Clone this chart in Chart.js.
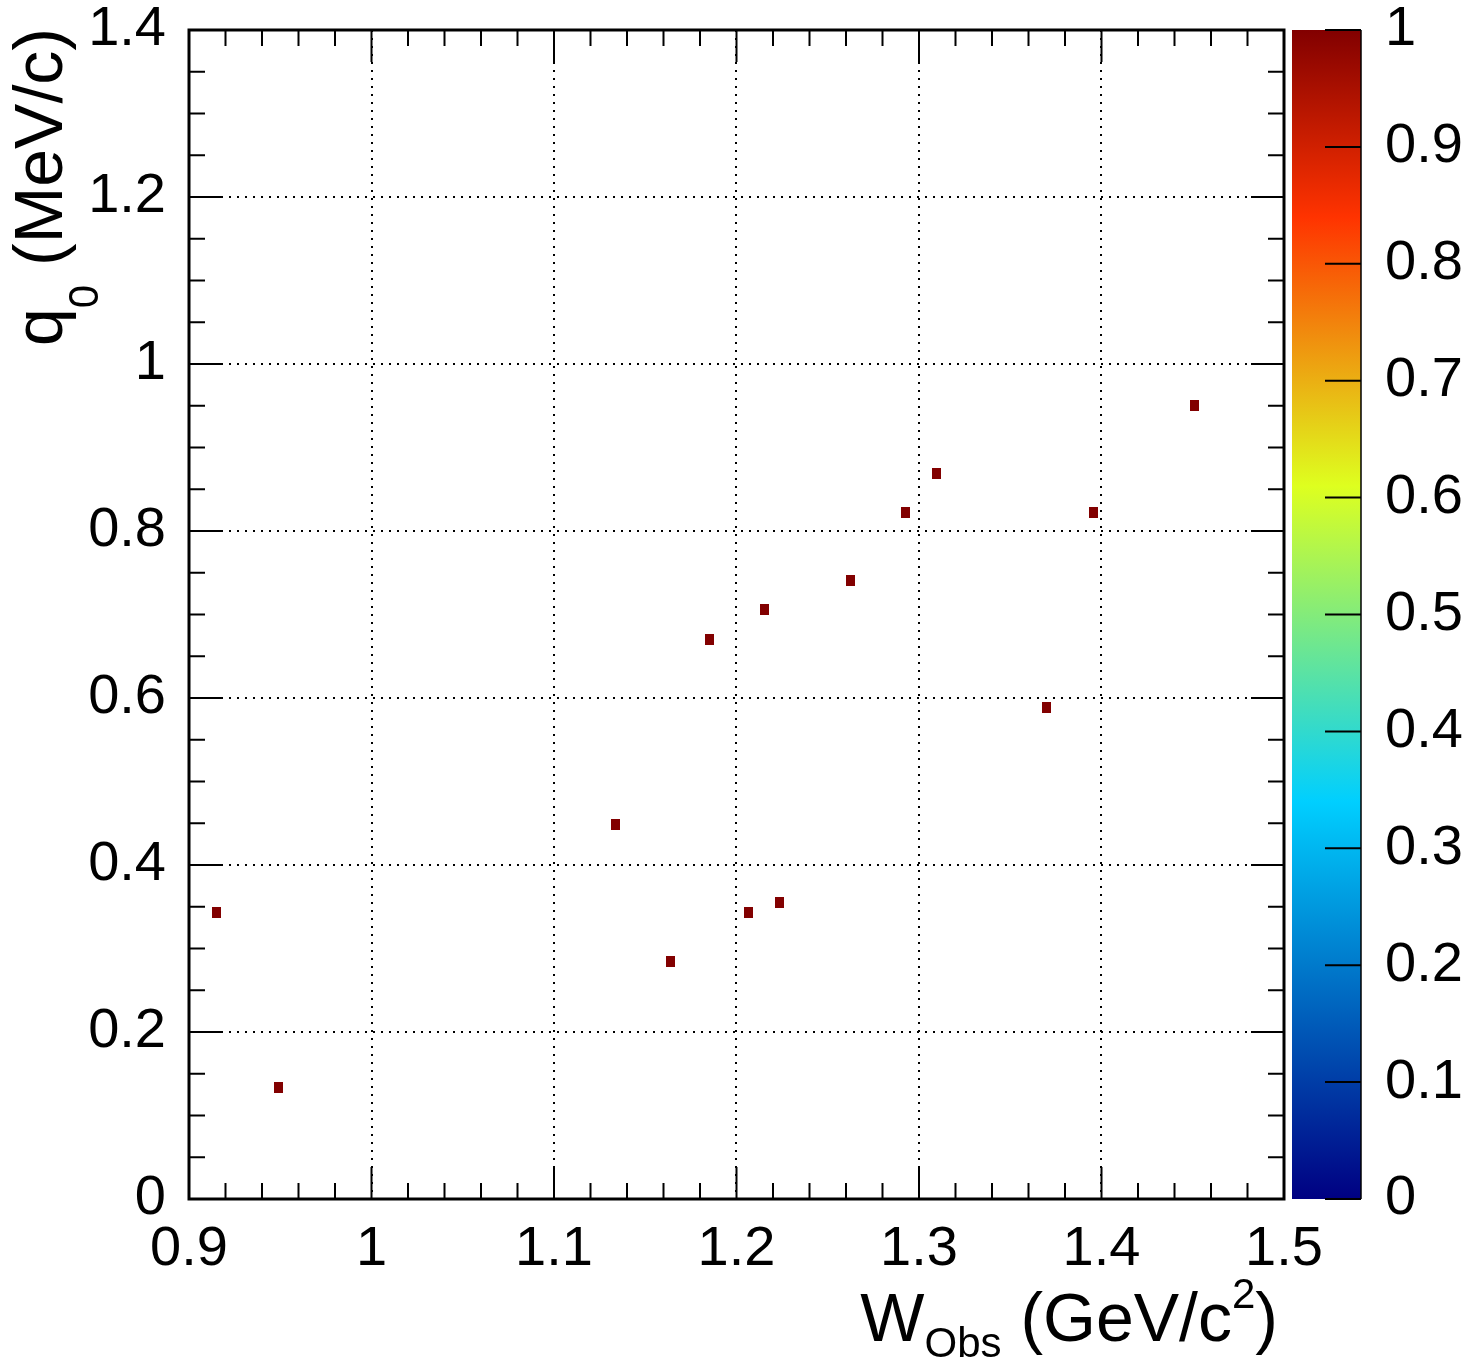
<!DOCTYPE html>
<html><head><meta charset="utf-8">
<script src="https://cdn.jsdelivr.net/npm/chart.js@4/dist/chart.umd.min.js"></script>
<style>html,body{margin:0;padding:0;background:#fff}canvas{display:block}</style>
</head><body>
<canvas id="c" width="1463" height="1363"></canvas>
<script>
// ---- data ----
const wObs = [0.9148, 0.9493, 1.1337, 1.1638, 1.1852, 1.2066, 1.2153, 1.2237, 1.2625, 1.2926, 1.3096, 1.3697, 1.3955, 1.4508];
const q0   = [0.3437, 0.1335, 0.4485, 0.2850, 0.6700, 0.3434, 0.7054, 0.3553, 0.7404, 0.8222, 0.8689, 0.5884, 0.8222, 0.9505];
const zVal = [1, 1, 1, 1, 1, 1, 1, 1, 1, 1, 1, 1, 1, 1];
const xTickLabels = ['0.9', '1', '1.1', '1.2', '1.3', '1.4', '1.5'];
const yTickLabels = ['0', '0.2', '0.4', '0.6', '0.8', '1', '1.2', '1.4'];
const zTickLabels = ['0', '0.1', '0.2', '0.3', '0.4', '0.5', '0.6', '0.7', '0.8', '0.9', '1'];
const paletteStops = [0.00, 0.34, 0.61, 0.84, 1.00];
const paletteRGB = [[0, 0, 130], [0, 207, 255], [222, 255, 31], [255, 51, 0], [130, 0, 0]];

// ---- helpers ----
function paletteColor(v) {
  v = Math.max(0, Math.min(1, v));
  for (let i = 0; i < paletteStops.length - 1; i++) {
    if (v <= paletteStops[i + 1]) {
      const t = (v - paletteStops[i]) / (paletteStops[i + 1] - paletteStops[i]);
      const a = paletteRGB[i], b = paletteRGB[i + 1];
      return 'rgb(' + a.map((c, k) => Math.round(c + (b[k] - c) * t)).join(',') + ')';
    }
  }
  return 'rgb(' + paletteRGB[paletteRGB.length - 1].join(',') + ')';
}
function binImage(color) {
  const cv = document.createElement('canvas');
  cv.width = 9; cv.height = 11;
  const g = cv.getContext('2d');
  g.fillStyle = color; g.fillRect(0, 0, 9, 11);
  return cv;
}
const FONT = "'Liberation Sans', Arial, Helvetica, sans-serif";
Chart.defaults.font.family = FONT;
Chart.defaults.color = '#000';

const points = wObs.map((x, i) => ({x: x, y: q0[i], z: zVal[i]}));
const pointImgs = zVal.map(z => binImage(paletteColor(z)));

function drawRich(ctx, parts, x, y, mainSize, subSize) {
  let total = 0;
  const widths = parts.map(p => {
    ctx.font = (p.small ? subSize : mainSize) + 'px ' + FONT;
    const w = ctx.measureText(p.t).width; total += w; return w;
  });
  let cx = x - total;
  ctx.textAlign = 'left'; ctx.textBaseline = 'alphabetic';
  parts.forEach((p, i) => {
    ctx.font = (p.small ? subSize : mainSize) + 'px ' + FONT;
    ctx.fillText(p.t, cx, y + (p.dy || 0));
    cx += widths[i];
  });
}

function noPad(s) {
  s.paddingTop = 0; s.paddingBottom = 0; s.paddingLeft = 0; s.paddingRight = 0;
}

const rootStyle = {
  id: 'rootStyle',
  beforeDatasetsDraw(chart) {
    const ctx = chart.ctx, a = chart.chartArea, zs = chart.scales.z;
    const bx0 = a.right + 8, bx1 = a.right + 77;
    const yTop = zs.getPixelForValue(1), yBot = zs.getPixelForValue(0);
    const grad = ctx.createLinearGradient(0, yBot, 0, yTop);
    paletteStops.forEach((s, i) => grad.addColorStop(s, 'rgb(' + paletteRGB[i].join(',') + ')'));
    ctx.save();
    ctx.fillStyle = grad;
    ctx.fillRect(bx0, yTop, bx1 - bx0, yBot - yTop);
    ctx.strokeStyle = '#000';
    ctx.lineWidth = 1.5;
    ctx.beginPath(); ctx.moveTo(bx1, yTop); ctx.lineTo(bx1, yBot); ctx.stroke();
    ctx.lineWidth = 2;
    zTickLabels.forEach((l, i) => {
      const yy = zs.getPixelForValue(i / 10);
      ctx.beginPath(); ctx.moveTo(bx1 - 36, yy); ctx.lineTo(bx1, yy); ctx.stroke();
    });
    ctx.restore();
  },
  afterDatasetsDraw(chart) {
    const ctx = chart.ctx, a = chart.chartArea, xs = chart.scales.x, ys = chart.scales.y;
    ctx.save();
    ctx.strokeStyle = '#000';
    ctx.lineWidth = 2;
    for (let i = 0; i <= 30; i++) {
      const px = xs.getPixelForValue(0.9 + i * 0.02);
      const len = (i % 5 === 0) ? 32 : 16;
      ctx.beginPath();
      ctx.moveTo(px, a.bottom); ctx.lineTo(px, a.bottom - len);
      ctx.moveTo(px, a.top); ctx.lineTo(px, a.top + len);
      ctx.stroke();
    }
    for (let i = 0; i <= 28; i++) {
      const py = ys.getPixelForValue(i * 0.05);
      const len = (i % 4 === 0) ? 33 : 16;
      ctx.beginPath();
      ctx.moveTo(a.left, py); ctx.lineTo(a.left + len, py);
      ctx.moveTo(a.right, py); ctx.lineTo(a.right - len, py);
      ctx.stroke();
    }
    ctx.lineWidth = 3;
    ctx.strokeRect(a.left, a.top, a.right - a.left, a.bottom - a.top);
    ctx.restore();
  },
  afterDraw(chart) {
    const ctx = chart.ctx, a = chart.chartArea;
    ctx.save();
    ctx.fillStyle = '#000';
    drawRich(ctx, [
      {t: 'W'}, {t: 'Obs', small: true, dy: 16}, {t: ' (GeV/c'}, {t: '2', small: true, dy: -33}, {t: ')'}
    ], a.right - 6, 1341, 68, 42);
    ctx.translate(62, a.top - 2);
    ctx.rotate(-Math.PI / 2);
    drawRich(ctx, [
      {t: 'q'}, {t: '0', small: true, dy: 36}, {t: ' (MeV/c)'}
    ], 0, 0, 68, 42);
    ctx.restore();
  }
};

const gridCommon = {color: '#000', lineWidth: 2, drawTicks: false};

new Chart(document.getElementById('c'), {
  type: 'scatter',
  data: {
    datasets: [{
      data: points,
      pointStyle: pointImgs,
      pointRadius: 5,
      pointHoverRadius: 5
    }]
  },
  options: {
    responsive: false,
    animation: false,
    devicePixelRatio: 1,
    layout: {padding: {top: 30, left: 0, right: 0, bottom: 0}},
    plugins: {legend: {display: false}, tooltip: {enabled: false}},
    events: [],
    scales: {
      x: {
        type: 'linear', position: 'bottom', min: 0.9, max: 1.5,
        afterFit(s) { s.height = 164; noPad(s); },
        grid: gridCommon,
        border: {display: false, dash: [2, 6]},
        ticks: {
          stepSize: 0.1, autoSkip: false, maxRotation: 0, padding: 17,
          font: {size: 56},
          callback: (v) => xTickLabels[Math.round((v - 0.9) / 0.1)]
        }
      },
      y: {
        type: 'linear', position: 'left', min: 0, max: 1.4,
        afterFit(s) { s.width = 189; noPad(s); },
        grid: gridCommon,
        border: {display: false, dash: [2, 6]},
        ticks: {
          stepSize: 0.2, autoSkip: false, padding: 23,
          font: {size: 56},
          callback: (v) => yTickLabels[Math.round(v / 0.2)]
        }
      },
      z: {
        type: 'linear', axis: 'y', position: 'right', min: 0, max: 1,
        afterFit(s) { s.width = 179; noPad(s); },
        grid: {display: false, drawTicks: false},
        border: {display: false},
        ticks: {
          stepSize: 0.1, autoSkip: false, padding: 101,
          font: {size: 56},
          callback: (v) => zTickLabels[Math.round(v / 0.1)]
        }
      }
    }
  },
  plugins: [rootStyle]
});
</script>
</body></html>
